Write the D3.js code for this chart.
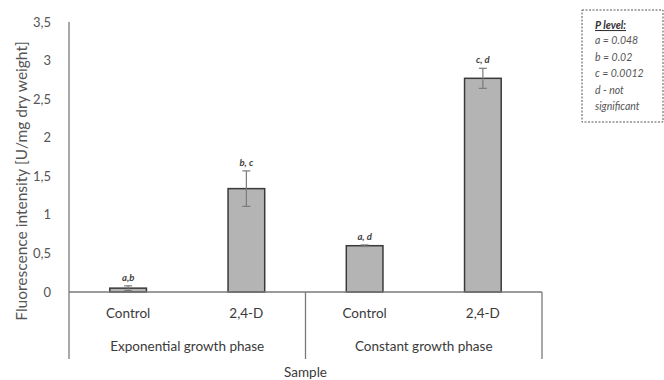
<!DOCTYPE html>
<html>
<head>
<meta charset="utf-8">
<script src="https://cdn.jsdelivr.net/npm/d3@7"></script>
<style>
  body { margin: 0; background: #fff; }
  svg { display: block; font-family: Lato, "Open Sans", sans-serif; }
</style>
</head>
<body>
<svg id="chart" width="664" height="380"></svg>
<script>
// Samples, grouped by growth phase
const samples = ["Control", "2,4-D", "Control", "2,4-D"];
const phases = ["Exponential growth phase", "Constant growth phase"];
const means = [0.05, 1.34, 0.60, 2.77];
const errors = [0.03, 0.23, 0.01, 0.13];
const letters = ["a,b", "b, c", "a, d", "c, d"];
const yTicks = [0, 0.5, 1, 1.5, 2, 2.5, 3, 3.5];
const legendLines = ["a = 0.048", "b = 0.02", "c = 0.0012", "d - not", "significant"];

(function draw() {
  const svg = d3.select("#chart");
  const plotLeft = 69, plotRight = 542, plotTop = 22, plotBase = 292, plotBottom = 359;

  const x = d3.scaleBand().domain(d3.range(samples.length)).range([plotLeft, plotRight])
    .paddingInner(0.69).paddingOuter(0.345);
  const y = d3.scaleLinear().domain([0, 3.5]).range([plotBase, plotTop]);

  const textCol = "#3a3a3a";
  const axisCol = "#7a7a7a";

  // y tick labels
  svg.append("g").selectAll("text").data(yTicks).join("text")
    .attr("x", 51).attr("y", d => y(d)).attr("dy", "0.35em")
    .attr("text-anchor", "end").attr("font-size", 13).attr("fill", "#555")
    .text(d => String(d).replace(".", ","));

  // y axis title
  svg.append("text")
    .attr("transform", "translate(27,181) rotate(-90)")
    .attr("text-anchor", "middle").attr("font-size", 15.5).attr("fill", "#555")
    .text("Fluorescence intensity [U/mg dry weight]");

  // bars
  svg.append("g").selectAll("rect").data(means).join("rect")
    .attr("x", (d, i) => x(i)).attr("width", x.bandwidth())
    .attr("y", d => y(d)).attr("height", d => plotBase - y(d))
    .attr("fill", "#b4b4b4").attr("stroke", "#3a3a3a").attr("stroke-width", 1.5);

  // error bars
  const eb = svg.append("g").attr("stroke", "#7a7a7a").attr("stroke-width", 1.2);
  means.forEach((m, i) => {
    const cx = x(i) + x.bandwidth() / 2;
    const lo = y(m - errors[i]), hi = y(m + errors[i]);
    eb.append("line").attr("x1", cx).attr("x2", cx).attr("y1", lo).attr("y2", hi);
    eb.append("line").attr("x1", cx - 4).attr("x2", cx + 4).attr("y1", lo).attr("y2", lo);
    eb.append("line").attr("x1", cx - 4).attr("x2", cx + 4).attr("y1", hi).attr("y2", hi);
  });

  // significance letters
  svg.append("g").selectAll("text").data(letters).join("text")
    .attr("x", (d, i) => x(i) + x.bandwidth() / 2)
    .attr("y", (d, i) => y(means[i] + errors[i]) - 5)
    .attr("text-anchor", "middle").attr("font-size", 9.5)
    .attr("font-style", "italic").attr("font-weight", "bold").attr("fill", "#404040")
    .text(d => d);

  // axis lines and group dividers
  const ax = svg.append("g").attr("stroke", axisCol).attr("stroke-width", 1.3);
  ax.append("line").attr("x1", plotLeft).attr("x2", plotLeft).attr("y1", plotTop).attr("y2", plotBottom);
  ax.append("line").attr("x1", plotLeft).attr("x2", plotRight).attr("y1", plotBase).attr("y2", plotBase);
  const midX = (x(1) + x.bandwidth() + x(2)) / 2;
  [midX, plotRight].forEach(px => ax.append("line")
    .attr("x1", px).attr("x2", px).attr("y1", plotBase).attr("y2", plotBottom));

  // sample labels
  svg.append("g").selectAll("text").data(samples).join("text")
    .attr("x", (d, i) => x(i) + x.bandwidth() / 2).attr("y", 318)
    .attr("text-anchor", "middle").attr("font-size", 13.5).attr("fill", textCol)
    .text(d => d);

  // phase labels
  const phaseCenters = [(plotLeft + midX) / 2, (midX + plotRight) / 2];
  svg.append("g").selectAll("text").data(phases).join("text")
    .attr("x", (d, i) => phaseCenters[i]).attr("y", 351)
    .attr("text-anchor", "middle").attr("font-size", 13.5).attr("fill", textCol)
    .text(d => d);

  // x axis title
  svg.append("text").attr("x", (plotLeft + plotRight) / 2).attr("y", 377)
    .attr("text-anchor", "middle").attr("font-size", 13.5).attr("fill", textCol)
    .text("Sample");

  // P level note
  const note = svg.append("g");
  note.append("rect").attr("x", 582).attr("y", 10).attr("width", 81).attr("height", 112)
    .attr("fill", "none").attr("stroke", "#555").attr("stroke-width", 1).attr("stroke-dasharray", "2,1.5");
  note.append("text").attr("x", 595).attr("y", 29).attr("font-size", 10.5)
    .attr("font-style", "italic").attr("font-weight", "bold").attr("fill", "#333")
    .attr("text-decoration", "underline").text("P level:");
  note.selectAll("text.l").data(legendLines).join("text").attr("class", "l")
    .attr("x", 595).attr("y", (d, i) => 44 + i * 16.5).attr("font-size", 10.5)
    .attr("font-style", "italic").attr("fill", "#555").text(d => d);
})();
</script>
</body>
</html>
